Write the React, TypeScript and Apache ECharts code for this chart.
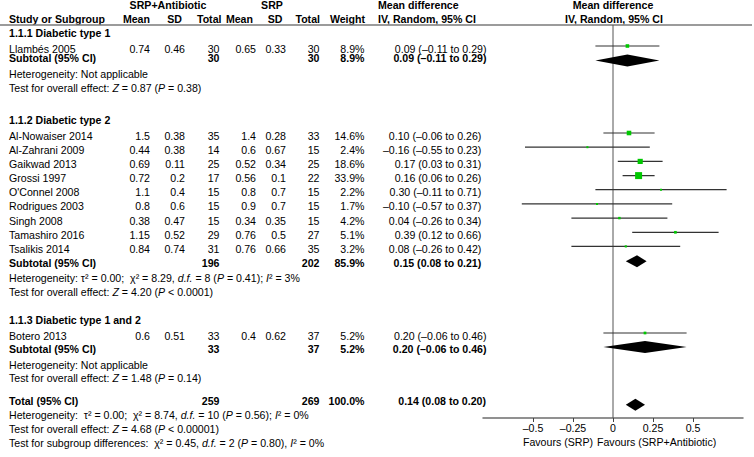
import React, { useEffect, useRef } from 'react';
import * as echarts from 'echarts';

// ---------- data ----------
const groupTitles = ['1.1.1 Diabetic type 1', '1.1.2 Diabetic type 2', '1.1.3 Diabetic type 1 and 2'];
const studyNames = ['Llambés 2005', 'Al-Nowaiser 2014', 'Al-Zahrani 2009', 'Gaikwad 2013', 'Grossi 1997', "O'Connel 2008", 'Rodrigues 2003', 'Singh 2008', 'Tamashiro 2016', 'Tsalikis 2014', 'Botero 2013'];
const studyGroup = [0, 1, 1, 1, 1, 1, 1, 1, 1, 1, 2];
const abMean = [0.74, 1.5, 0.44, 0.69, 0.72, 1.1, 0.8, 0.38, 1.15, 0.84, 0.6];
const abSD = [0.46, 0.38, 0.38, 0.11, 0.2, 0.4, 0.6, 0.47, 0.52, 0.74, 0.51];
const abTotal = [30, 35, 14, 25, 17, 15, 15, 15, 29, 31, 33];
const srpMean = [0.65, 1.4, 0.6, 0.52, 0.56, 0.8, 0.9, 0.34, 0.76, 0.76, 0.4];
const srpSD = [0.33, 0.28, 0.67, 0.34, 0.1, 0.7, 0.7, 0.35, 0.5, 0.66, 0.62];
const srpTotal = [30, 33, 15, 25, 22, 15, 15, 15, 27, 35, 37];
const weights = [8.9, 14.6, 2.4, 18.6, 33.9, 2.2, 1.7, 4.2, 5.1, 3.2, 5.2];
const mdEst = [0.09, 0.10, -0.16, 0.17, 0.16, 0.30, -0.10, 0.04, 0.39, 0.08, 0.20];
const mdLow = [-0.11, -0.06, -0.55, 0.03, 0.06, -0.11, -0.57, -0.26, 0.12, -0.26, -0.06];
const mdHigh = [0.29, 0.26, 0.23, 0.31, 0.26, 0.71, 0.37, 0.34, 0.66, 0.42, 0.46];

const subAbTotal = [30, 196, 33];
const subSrpTotal = [30, 202, 37];
const subWeight = [8.9, 85.9, 5.2];
const subEst = [0.09, 0.15, 0.20];
const subLow = [-0.11, 0.08, -0.06];
const subHigh = [0.29, 0.21, 0.46];
const subHeterogeneity = [
  'Heterogeneity: Not applicable',
  'Heterogeneity: τ² = 0.00;  χ² = 8.29, {i|d.f.} = 8 ({i|P} = 0.41); {i|I}² = 3%',
  'Heterogeneity: Not applicable',
];
const subOverall = [
  'Test for overall effect: {i|Z} = 0.87 ({i|P} = 0.38)',
  'Test for overall effect: {i|Z} = 4.20 ({i|P} < 0.0001)',
  'Test for overall effect: {i|Z} = 1.48 ({i|P} = 0.14)',
];

const totalAb = 259;
const totalSrp = 269;
const totalWeight = 100.0;
const totalEst = 0.14;
const totalLow = 0.08;
const totalHigh = 0.20;
const totalHeterogeneity = 'Heterogeneity:  τ² = 0.00;  χ² = 8.74, {i|d.f.} = 10 ({i|P} = 0.56); {i|I}² = 0%';
const totalOverall = 'Test for overall effect: {i|Z} = 4.68 ({i|P} < 0.00001)';
const subgroupDiff = 'Test for subgroup differences:  χ² = 0.45, {i|d.f.} = 2 ({i|P} = 0.80), {i|I}² = 0%';

const tickValues = [-0.5, -0.25, 0, 0.25, 0.5];
const favoursLeft = 'Favours (SRP)';
const favoursRight = 'Favours (SRP+Antibiotic)';

// ---------- layout (pixel rows) ----------
const FS = 10.6;
const LH = 9.5;
const FF = '"Liberation Sans", Arial, Helvetica, sans-serif';
const headerY = [5, 18.5];
const headerLineY = 25;
const groupHeaderY = [33, 120.3, 319.7];
const studyTextY = [48.5, 135.5, 149.7, 163.9, 178.1, 192.2, 206.4, 220.6, 234.8, 248.9, 335.5];
const markOffset = -2.5;
const subtotalTextY = [58.4, 262.7, 349.2];
const diamondY = [60.5, 261.2, 347];
const hetY = [73.8, 277.5, 364.7];
const overallY = [87.5, 291.5, 378];
const totalTextY = 400.8;
const totalDiamondY = 404.7;
const totalHetY = 415.2;
const totalOverallY = 428.8;
const subgroupDiffY = 442.5;
const favoursY = 441.8;
const ciRight = [486.5, 481.3, 486.5];
const totalCiRight = 486;
const col = { name: 9, abMean: 150, abSD: 185, abTotal: 219.5, srpMean: 256, srpSD: 286, srpTotal: 319.5, weight: 364.5 };
const AXIS_BOTTOM = 418;

const dash = (v: number, d = 2) => (v < 0 ? '–' + Math.abs(v).toFixed(d) : v.toFixed(d));
const ci = (e: number, l: number, h: number) => `${dash(e)} (${dash(l)} to ${dash(h)})`;

const richStyles = {
  i: { fontStyle: 'italic', fontSize: FS, fontFamily: FF, fill: '#000', lineHeight: LH },
};

function txt(text: string, x: number, y: number, align = 'left', bold = false) {
  return {
    type: 'text',
    x,
    y,
    silent: true,
    style: {
      text,
      fill: '#000',
      fontSize: FS,
      fontFamily: FF,
      fontWeight: bold ? 'bold' : 'normal',
      lineHeight: LH,
      align,
      verticalAlign: 'middle',
      textAlign: align,
      textVerticalAlign: 'middle',
      rich: richStyles,
    },
  };
}

function buildGraphics() {
  const els: any[] = [];
  // headers
  els.push(txt('SRP+Antibiotic', 168, headerY[0], 'center', true));
  els.push(txt('SRP', 272, headerY[0], 'center', true));
  els.push(txt('Mean difference', 378, headerY[0], 'left', true));
  els.push(txt('Mean difference', 613, headerY[0], 'center', true));
  els.push(txt('Study or Subgroup', col.name, headerY[1], 'left', true));
  els.push(txt('Mean', 150, headerY[1], 'right', true));
  els.push(txt('SD', 182, headerY[1], 'right', true));
  els.push(txt('Total', 221.5, headerY[1], 'right', true));
  els.push(txt('Mean', 253, headerY[1], 'right', true));
  els.push(txt('SD', 282.5, headerY[1], 'right', true));
  els.push(txt('Total', 320, headerY[1], 'right', true));
  els.push(txt('Weight', 365, headerY[1], 'right', true));
  els.push(txt('IV, Random, 95% CI', 378, headerY[1], 'left', true));
  els.push(txt('IV, Random, 95% CI', 614, headerY[1], 'center', true));
  els.push({
    type: 'line',
    silent: true,
    shape: { x1: 0, y1: headerLineY, x2: 752, y2: headerLineY },
    style: { stroke: '#7a7a7a', lineWidth: 1.5 },
  });

  // groups
  groupTitles.forEach((g, gi) => {
    els.push(txt(g, col.name, groupHeaderY[gi], 'left', true));
    els.push(txt('Subtotal (95% CI)', col.name, subtotalTextY[gi], 'left', true));
    els.push(txt(String(subAbTotal[gi]), col.abTotal, subtotalTextY[gi], 'right', true));
    els.push(txt(String(subSrpTotal[gi]), col.srpTotal, subtotalTextY[gi], 'right', true));
    els.push(txt(subWeight[gi].toFixed(1) + '%', col.weight, subtotalTextY[gi], 'right', true));
    els.push(txt(ci(subEst[gi], subLow[gi], subHigh[gi]), ciRight[gi], subtotalTextY[gi], 'right', true));
    els.push(txt(subHeterogeneity[gi], col.name, hetY[gi], 'left'));
    els.push(txt(subOverall[gi], col.name, overallY[gi], 'left'));
  });

  // studies
  studyNames.forEach((n, i) => {
    const y = studyTextY[i];
    els.push(txt(n, col.name, y, 'left'));
    els.push(txt(String(abMean[i]), col.abMean, y, 'right'));
    els.push(txt(String(abSD[i]), col.abSD, y, 'right'));
    els.push(txt(String(abTotal[i]), col.abTotal, y, 'right'));
    els.push(txt(String(srpMean[i]), col.srpMean, y, 'right'));
    els.push(txt(String(srpSD[i]), col.srpSD, y, 'right'));
    els.push(txt(String(srpTotal[i]), col.srpTotal, y, 'right'));
    els.push(txt(weights[i].toFixed(1) + '%', col.weight, y, 'right'));
    els.push(txt(ci(mdEst[i], mdLow[i], mdHigh[i]), ciRight[studyGroup[i]], y, 'right'));
  });

  // total
  els.push(txt('Total (95% CI)', col.name, totalTextY, 'left', true));
  els.push(txt(String(totalAb), col.abTotal, totalTextY, 'right', true));
  els.push(txt(String(totalSrp), col.srpTotal, totalTextY, 'right', true));
  els.push(txt(totalWeight.toFixed(1) + '%', col.weight, totalTextY, 'right', true));
  els.push(txt(ci(totalEst, totalLow, totalHigh), totalCiRight, totalTextY, 'right', true));
  els.push(txt(totalHeterogeneity, col.name, totalHetY, 'left'));
  els.push(txt(totalOverall, col.name, totalOverallY, 'left'));
  els.push(txt(subgroupDiff, col.name, subgroupDiffY, 'left'));

  // favours
  els.push(txt(favoursLeft, 593, favoursY, 'right'));
  els.push(txt(favoursRight, 597, favoursY, 'left'));
  return els;
}

export default function App() {
  const ref = useRef<HTMLDivElement>(null);
  useEffect(() => {
    document.body.style.margin = '0';
    if (!ref.current) return;
    const chart = echarts.init(ref.current, undefined, { renderer: 'svg' });

    const studyData = studyNames.map((_, i) => [mdEst[i], mdLow[i], mdHigh[i], studyTextY[i] + markOffset, weights[i]]);
    const diamondData = [
      ...subEst.map((e, gi) => [e, subLow[gi], subHigh[gi], diamondY[gi]]),
      [totalEst, totalLow, totalHigh, totalDiamondY],
    ];

    const option: any = {
      animation: false,
      grid: { left: 483, right: 11, top: 0, bottom: 457 - AXIS_BOTTOM },
      xAxis: {
        type: 'value',
        min: -0.8125,
        max: 0.8125,
        axisLine: { show: true, onZero: false, lineStyle: { color: '#6e6e6e', width: 1.5 } },
        axisTick: { show: true, customValues: tickValues, length: 4, lineStyle: { color: '#444', width: 1 } },
        axisLabel: {
          customValues: tickValues,
          formatter: (v: number) => (v === 0 ? '0' : v < 0 ? '–' + String(Math.abs(v)) : String(v)),
          fontSize: FS,
          fontFamily: FF,
          color: '#000',
          margin: 4,
        },
        splitLine: { show: false },
      },
      yAxis: { type: 'value', min: 0, max: AXIS_BOTTOM, inverse: true, show: false },
      series: [
        {
          type: 'line',
          data: [[0, headerLineY], [0, AXIS_BOTTOM]],
          symbol: 'none',
          silent: true,
          lineStyle: { color: '#555', width: 1 },
          z: 1,
        },
        {
          type: 'custom',
          data: studyData,
          encode: { x: [0, 1, 2], y: 3 },
          clip: false,
          silent: true,
          z: 3,
          renderItem: (params: any, api: any) => {
            const y = api.value(3);
            const p0 = api.coord([api.value(1), y]);
            const p1 = api.coord([api.value(2), y]);
            const pc = api.coord([api.value(0), y]);
            const s = Math.max(2, 1.2 * Math.sqrt(api.value(4)));
            return {
              type: 'group',
              children: [
                { type: 'line', shape: { x1: p0[0], y1: p0[1], x2: p1[0], y2: p1[1] }, style: { stroke: '#333', lineWidth: 1.2 } },
                { type: 'rect', shape: { x: pc[0] - s / 2, y: pc[1] - s / 2, width: s, height: s }, style: { fill: '#00c800' } },
              ],
            };
          },
        },
        {
          type: 'custom',
          data: diamondData,
          encode: { x: [0, 1, 2], y: 3 },
          clip: false,
          silent: true,
          z: 3,
          renderItem: (params: any, api: any) => {
            const y = api.value(3);
            const pl = api.coord([api.value(1), y]);
            const ph = api.coord([api.value(2), y]);
            const pc = api.coord([api.value(0), y]);
            const h = 6;
            return {
              type: 'polygon',
              shape: { points: [[pl[0], pl[1]], [pc[0], pc[1] - h], [ph[0], ph[1]], [pc[0], pc[1] + h]] },
              style: { fill: '#000' },
            };
          },
        },
      ],
      graphic: { elements: buildGraphics() },
    };
    chart.setOption(option);
    return () => chart.dispose();
  }, []);
  return <div ref={ref} style={{ position: 'absolute', left: 0, top: 0, width: 754, height: 457 }} />;
}
